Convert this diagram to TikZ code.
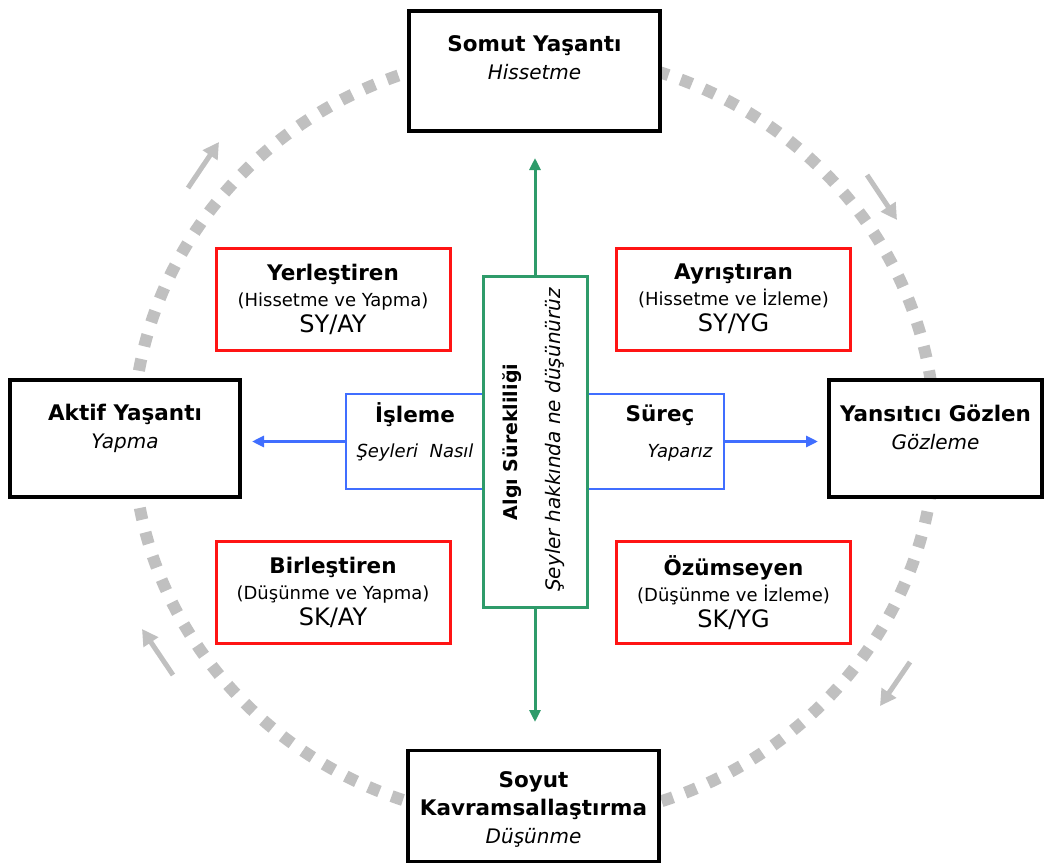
\documentclass[tikz,border=0pt]{standalone}
\usepackage{fontspec}
\setmainfont{DejaVu Sans}
\usetikzlibrary{arrows.meta,positioning}

\definecolor{kirmizi}{RGB}{255,20,20}
\definecolor{mavi}{RGB}{64,110,255}
\definecolor{yesil}{RGB}{46,155,106}
\definecolor{gri}{RGB}{192,192,192}

\newcommand{\bas}[1]{{\fontsize{21.5}{24}\selectfont\bfseries #1}}
\newcommand{\alt}[1]{{\fontsize{20}{24}\selectfont\itshape #1}}
\newcommand{\kod}[1]{{\fontsize{24}{26}\selectfont #1}}

\begin{document}
\begin{tikzpicture}[x=1pt,y=-1pt,
  mode/.style={rectangle, draw=black, line width=3.2pt, fill=white},
  modetext/.style={align=center, font=\fontsize{18}{28}\selectfont, inner sep=0pt},
  ogrenme/.style={rectangle, draw=kirmizi, line width=3pt, fill=white,
    minimum width=234pt, minimum height=102pt, align=center,
    font=\fontsize{18}{26}\selectfont},
  surec/.style={rectangle, draw=mavi, line width=2.8pt, fill=white,
    minimum width=138pt, minimum height=95pt},
  algi/.style={rectangle, draw=yesil, line width=3pt, fill=white,
    minimum width=104pt, minimum height=331pt},
  dongu/.style={draw=gri, line width=12pt, dash pattern=on 12pt off 13pt},
  yon/.style={draw=gri, line width=5pt, -{Triangle[length=16pt,width=17pt]}}
  ]
  \useasboundingbox (0,0) rectangle (1049,864);

  % dongu
  \draw[dongu] (534,437) ellipse [x radius=401, y radius=384];
  \coordinate (y1a) at (188,188); \coordinate (y1b) at (219,142);
  \coordinate (y2a) at (867,175); \coordinate (y2b) at (897,220);
  \coordinate (y3a) at (910,662); \coordinate (y3b) at (880,706);
  \coordinate (y4a) at (173,675); \coordinate (y4b) at (142,629);
  \draw[yon] (y1a) -- (y1b);
  \draw[yon] (y2a) -- (y2b);
  \draw[yon] (y3a) -- (y3b);
  \draw[yon] (y4a) -- (y4b);

  % ana kutular
  \node[mode, minimum width=251pt, minimum height=120pt] (somut) at (534.5,71) {};
  \node[modetext, below=26pt of somut.north] (somutT) {\bas{Somut Yaşantı}\\\alt{Hissetme}};
  \node[mode, minimum width=230pt, minimum height=117pt] (aktif) at (125,438.5) {};
  \node[modetext, below=26pt of aktif.north] (aktifT) {\bas{Aktif Yaşantı}\\\alt{Yapma}};
  \node[mode, minimum width=213pt, minimum height=117pt] (yansit) at (935.5,438.5) {};
  \node[modetext, below=26pt of yansit.north] (yansitT) {\bas{Yansıtıcı Gözlen}\\\alt{Gözleme}};
  \node[mode, minimum width=251pt, minimum height=111pt] (soyut) at (533.5,806) {};
  \node[modetext] (soyutT) at (533.5,809) {\bas{Soyut}\\\bas{Kavramsallaştırma}\\\alt{Düşünme}};

  % ogrenme stilleri
  \node[ogrenme] (yerles) at (333,299) {\bas{Yerleştiren}\\(Hissetme ve Yapma)\\\kod{SY/AY}};
  \node[ogrenme] (ayris) at (733.5,299) {\bas{Ayrıştıran}\\(Hissetme ve İzleme)\\\kod{SY/YG}};
  \node[ogrenme] (birles) at (333,592.5) {\bas{Birleştiren}\\(Düşünme ve Yapma)\\\kod{SK/AY}};
  \node[ogrenme] (ozum) at (733.5,592.5) {\bas{Özümseyen}\\(Düşünme ve İzleme)\\\kod{SK/YG}};

  % isleme sureci
  \node[surec] (isleme) at (415,441.5) {};
  \node[surec] (sure) at (655,441.5) {};
  \node[algi] (algi) at (535,441.5) {};
  \node (islemeA) at (415,415) {\bas{İşleme}};
  \node (islemeB) at (415,453) {\fontsize{18}{20}\selectfont\itshape Şeyleri~~Nasıl};
  \node (sureA) at (660,415) {\bas{Süreç}};
  \node (sureB) at (680,453) {\fontsize{18}{20}\selectfont\itshape Yaparız};
  \node[rotate=90] (algiA) at (512,442) {\fontsize{19}{20}\selectfont\bfseries Algı Sürekliliği};
  \node[rotate=90] (algiB) at (555,440) {\alt{Şeyler hakkında ne düşünürüz}};

  \coordinate (ust) at (535,158);
  \coordinate (alt) at (535,722);
  \coordinate (sol) at (252,441.5);
  \coordinate (sag) at (818,441.5);
  \draw[yesil, line width=3pt, -{Triangle[length=12pt,width=11pt]}] (algi) -- (ust);
  \draw[yesil, line width=3pt, -{Triangle[length=12pt,width=11pt]}] (algi) -- (alt);
  \draw[mavi, line width=3pt, -{Triangle[length=12pt,width=11pt]}] (isleme) -- (sol);
  \draw[mavi, line width=3pt, -{Triangle[length=12pt,width=11pt]}] (sure) -- (sag);
\end{tikzpicture}
\end{document}
